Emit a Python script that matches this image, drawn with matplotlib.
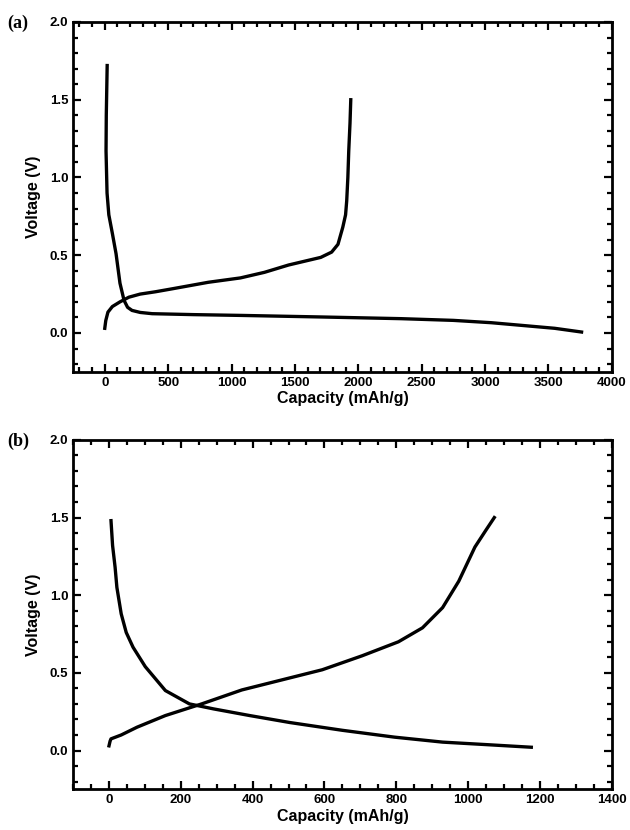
import matplotlib
matplotlib.use("Agg")
import matplotlib.pyplot as plt
from matplotlib.ticker import MultipleLocator

# panel (a) - discharge / charge curves
cap_a_dis = [19, 12, 10, 18, 32, 60, 89, 120, 152, 180, 215, 280, 374, 700, 1070, 1700, 2337, 2750, 3050, 3287, 3550, 3762]
volt_a_dis = [1.72, 1.40, 1.17, 0.90, 0.76, 0.64, 0.51, 0.32, 0.21, 0.165, 0.145, 0.132, 0.124, 0.118, 0.113, 0.103, 0.092, 0.081, 0.066, 0.049, 0.030, 0.006]
cap_a_chg = [0, 8, 25, 60, 120, 190, 279, 400, 532, 817, 1070, 1260, 1450, 1704, 1790, 1840, 1878, 1900, 1909, 1918, 1925, 1935, 1941]
volt_a_chg = [0.03, 0.08, 0.134, 0.17, 0.20, 0.23, 0.25, 0.265, 0.284, 0.326, 0.354, 0.39, 0.437, 0.486, 0.52, 0.57, 0.68, 0.76, 0.85, 1.00, 1.17, 1.35, 1.50]

# panel (b)
cap_b_dis = [5.6, 10, 17, 22, 34, 48, 67, 101, 157, 224, 291, 392, 504, 650, 795, 929, 1050, 1176]
volt_b_dis = [1.48, 1.32, 1.18, 1.05, 0.88, 0.76, 0.665, 0.54, 0.386, 0.30, 0.268, 0.225, 0.18, 0.13, 0.086, 0.054, 0.038, 0.021]
cap_b_chg = [0, 3, 5.6, 34, 78, 157, 258, 370, 482, 594, 705, 806, 873, 929, 974, 1019, 1050, 1073]
volt_b_chg = [0.03, 0.06, 0.075, 0.10, 0.15, 0.225, 0.30, 0.39, 0.455, 0.52, 0.61, 0.70, 0.79, 0.92, 1.09, 1.31, 1.42, 1.50]

xticks_a = [0, 500, 1000, 1500, 2000, 2500, 3000, 3500, 4000]
xticks_b = [0, 200, 400, 600, 800, 1000, 1200, 1400]
yticks = [0.0, 0.5, 1.0, 1.5, 2.0]

plt.rcParams['font.family'] = ['Liberation Sans', 'DejaVu Sans']
plt.rcParams['font.weight'] = 'bold'

fig = plt.figure(figsize=(6.3, 8.3), dpi=100)
ax_a = fig.add_axes([0.116, 0.552, 0.855, 0.4215])
ax_b = fig.add_axes([0.116, 0.049, 0.855, 0.421])


def style(ax, xlim, xticks, xminor, label):
    ax.set_xlim(*xlim)
    ax.set_ylim(-0.25, 2.0)
    ax.set_xticks(xticks)
    ax.set_yticks(yticks)
    ax.xaxis.set_minor_locator(MultipleLocator(xminor))
    ax.yaxis.set_minor_locator(MultipleLocator(0.1))
    ax.set_xticklabels([str(t) for t in xticks], fontsize=9.5, fontweight='bold')
    ax.set_yticklabels(['%.1f' % t for t in yticks], fontsize=9.5, fontweight='bold')
    ax.tick_params(which='both', direction='in', top=True, right=True, width=1.6)
    ax.tick_params(which='major', length=6)
    ax.tick_params(which='minor', length=3.5)
    for s in ax.spines.values():
        s.set_linewidth(2.0)
    ax.set_xlabel('Capacity (mAh/g)', fontsize=11.5, fontweight='bold', labelpad=2)
    ax.set_ylabel('Voltage (V)', fontsize=11.5, fontweight='bold', labelpad=6)
    # panel letter in the top-left corner of the figure area
    pos = ax.get_position()
    fig.text(0.012, pos.y1 - 0.002, label, fontsize=13, fontweight='bold',
             family='Liberation Serif', ha='left', va='center')


ax_a.plot(cap_a_dis, volt_a_dis, color='black', lw=2.4)
ax_a.plot(cap_a_chg, volt_a_chg, color='black', lw=2.4)
style(ax_a, (-250, 4000), xticks_a, 100, '(a)')

ax_b.plot(cap_b_dis, volt_b_dis, color='black', lw=2.4)
ax_b.plot(cap_b_chg, volt_b_chg, color='black', lw=2.4)
style(ax_b, (-100, 1400), xticks_b, 50, '(b)')

fig.savefig('out.png', dpi=100)
